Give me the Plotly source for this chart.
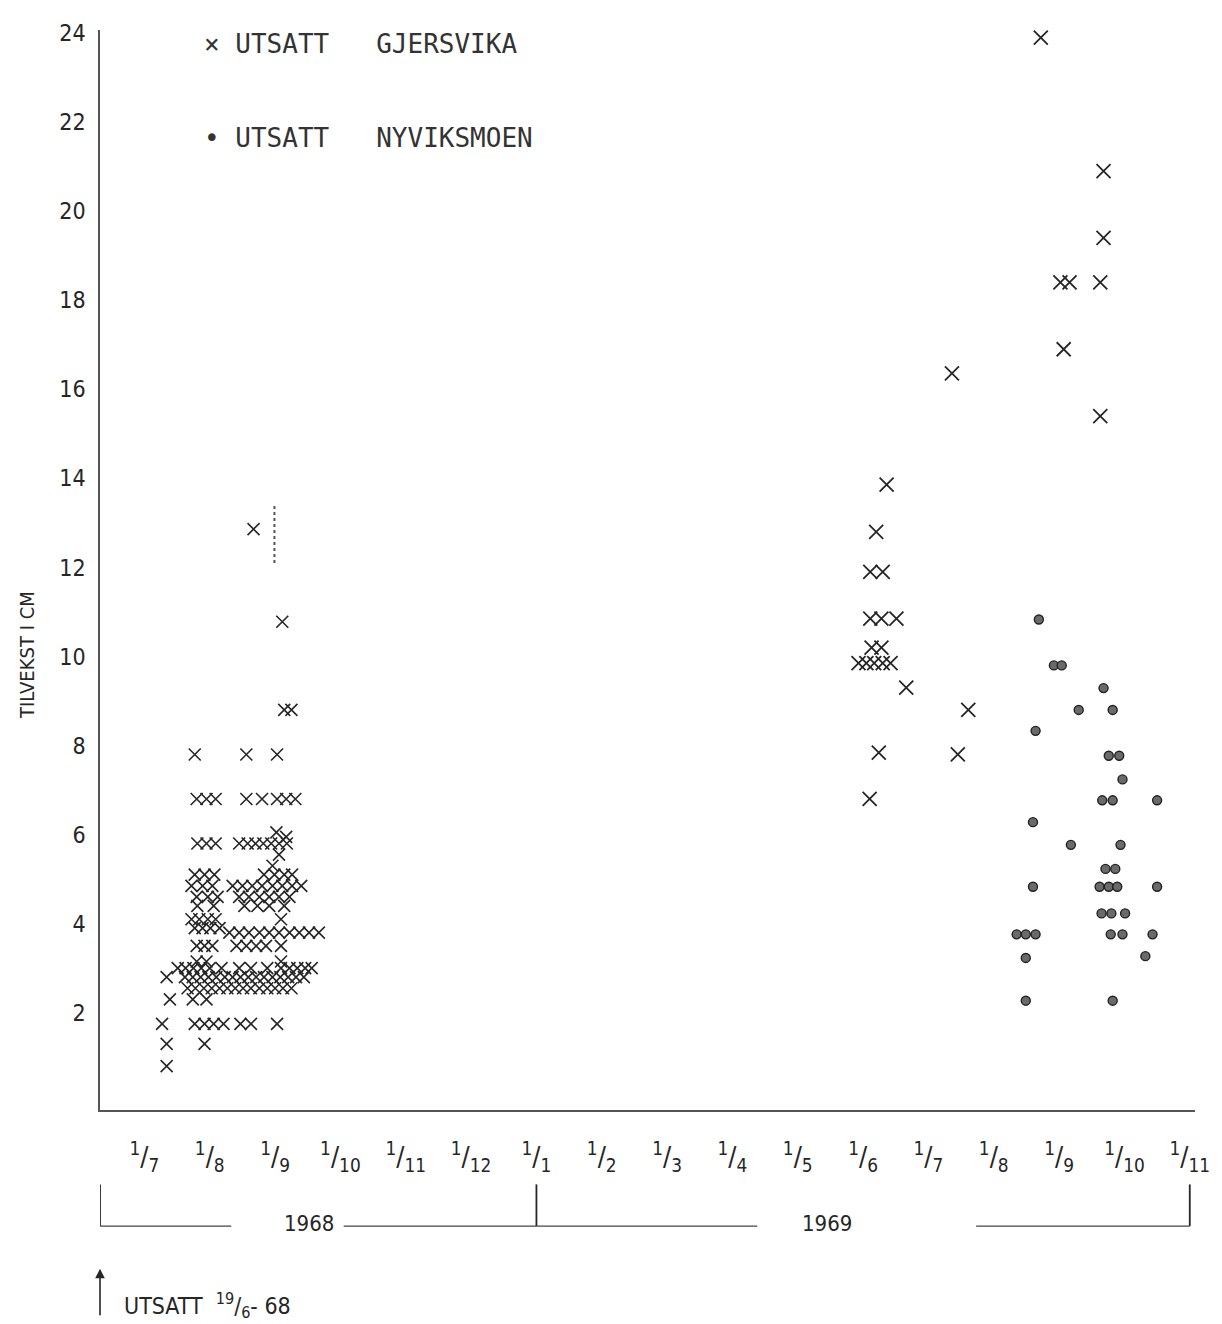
import plotly.graph_objects as go

# Month ticks: 0 = 1 Jul 1968 ... 16 = 1 Nov 1969
month_pos = list(range(17))
month_num = [7, 8, 9, 10, 11, 12, 1, 2, 3, 4, 5, 6, 7, 8, 9, 10, 11]
y_ticks = [2, 4, 6, 8, 10, 12, 14, 16, 18, 20, 22, 24]

# Utsatt Gjersvika, 1968 (months since 1/7-68, growth cm)
gj68_x = [1.67, 2.11, 2.14, 2.25,
          0.77, 1.56, 2.03,
          0.80, 0.95, 1.09, 1.56, 1.80, 2.03, 2.17, 2.31,
          2.02, 2.17,
          0.81, 0.95, 1.09, 1.45, 1.58, 1.70, 1.82, 1.94, 2.06, 2.18,
          2.06, 1.96,
          0.77, 0.92, 1.07, 1.83, 1.99, 2.14, 2.26,
          0.72, 0.89, 1.04, 1.35, 1.50, 1.65, 1.80, 1.96, 2.11, 2.26, 2.40,
          0.80, 0.97, 1.12, 1.45, 1.60, 1.76, 1.91, 2.06, 2.22,
          0.81, 1.06, 1.53, 1.73, 1.91, 2.14,
          0.72, 0.84, 0.97, 1.09, 2.09,
          0.77, 0.89, 1.01, 1.15,
          1.30, 1.45, 1.60, 1.76, 1.91, 2.06, 2.22, 2.37, 2.52, 2.67,
          0.80, 0.92, 1.04, 1.41, 1.56, 1.71, 1.86, 2.09,
          0.80, 0.95, 2.09,
          0.51, 0.63, 0.75, 0.87, 1.00, 1.18, 1.45, 1.63, 1.88, 2.09, 2.22, 2.34, 2.46, 2.56,
          0.34, 0.62, 0.74, 0.86, 0.98, 1.10, 1.23, 1.35, 1.47, 1.59, 1.71, 1.83, 1.96, 2.08, 2.20, 2.32, 2.44,
          0.66, 0.78, 0.91, 1.03, 1.15, 1.27, 1.39, 1.51, 1.63, 1.76, 1.88, 2.00, 2.12, 2.25,
          0.39, 0.74, 0.95,
          0.27, 0.77, 0.92, 1.06, 1.21, 1.47, 1.63, 2.03,
          0.34, 0.92,
          0.34]
gj68_y = [12.86, 10.78, 8.8, 8.8,
          7.8, 7.8, 7.8,
          6.8, 6.8, 6.8, 6.8, 6.8, 6.8, 6.8, 6.8,
          6.05, 5.95,
          5.8, 5.8, 5.8, 5.8, 5.8, 5.8, 5.8, 5.8, 5.8, 5.8,
          5.55, 5.3,
          5.1, 5.1, 5.1, 5.1, 5.1, 5.1, 5.1,
          4.85, 4.85, 4.85, 4.85, 4.85, 4.85, 4.85, 4.85, 4.85, 4.85, 4.85,
          4.6, 4.6, 4.6, 4.6, 4.6, 4.6, 4.6, 4.6, 4.6,
          4.4, 4.4, 4.4, 4.4, 4.4, 4.4,
          4.1, 4.1, 4.1, 4.1, 4.1,
          3.9, 3.9, 3.9, 3.9,
          3.8, 3.8, 3.8, 3.8, 3.8, 3.8, 3.8, 3.8, 3.8, 3.8,
          3.5, 3.5, 3.5, 3.5, 3.5, 3.5, 3.5, 3.5,
          3.15, 3.15, 3.15,
          3.0, 3.0, 3.0, 3.0, 3.0, 3.0, 3.0, 3.0, 3.0, 3.0, 3.0, 3.0, 3.0, 3.0,
          2.8, 2.8, 2.8, 2.8, 2.8, 2.8, 2.8, 2.8, 2.8, 2.8, 2.8, 2.8, 2.8, 2.8, 2.8, 2.8, 2.8,
          2.55, 2.55, 2.55, 2.55, 2.55, 2.55, 2.55, 2.55, 2.55, 2.55, 2.55, 2.55, 2.55, 2.55,
          2.3, 2.3, 2.3,
          1.75, 1.75, 1.75, 1.75, 1.75, 1.75, 1.75, 1.75,
          1.3, 1.3,
          0.8]

# Utsatt Gjersvika, 1969
gj69_x = [11.36, 11.20, 11.11, 11.30, 11.11, 11.28, 11.51, 11.13, 11.28,
          10.93, 11.05, 11.17, 11.30, 11.42, 11.66, 12.61, 11.24, 12.45, 11.10,
          12.36, 13.72, 14.68, 14.68, 14.02, 14.16, 14.63, 14.07, 14.63]
gj69_y = [13.86, 12.8, 11.9, 11.9, 10.85, 10.85, 10.85, 10.2, 10.2,
          9.85, 9.85, 9.85, 9.85, 9.85, 9.3, 8.8, 7.84, 7.8, 6.8,
          16.36, 23.9, 20.9, 19.4, 18.4, 18.4, 18.4, 16.9, 15.4]

# Utsatt Nyviksmoen, 1969
ny69_x = [13.69, 13.92, 14.04, 14.68, 14.30, 14.82, 13.64, 14.76, 14.92, 14.97,
          14.66, 14.82, 15.50, 13.60, 14.18, 14.94, 14.71, 14.86,
          13.60, 14.62, 14.76, 14.89, 15.50, 14.65, 14.80, 15.01,
          13.35, 13.49, 13.64, 14.79, 14.97, 15.43, 13.49, 15.32, 13.49, 14.82]
ny69_y = [10.83, 9.8, 9.8, 9.29, 8.8, 8.8, 8.33, 7.77, 7.77, 7.24,
          6.77, 6.77, 6.77, 6.28, 5.77, 5.77, 5.23, 5.23,
          4.83, 4.83, 4.83, 4.83, 4.83, 4.23, 4.23, 4.23,
          3.76, 3.76, 3.76, 3.76, 3.76, 3.76, 3.23, 3.27, 2.27, 2.27]

# Year bracket (in month units)
release_m = -0.68      # 19/6-68
year_split_m = 6.0     # 1/1-69
end_m = 16.0           # 1/11-69

INK = "#262626"
FONT = "DejaVu Sans Condensed"

fig = go.Figure()
fig.add_trace(go.Scatter(x=gj68_x, y=gj68_y, mode="markers",
                         marker=dict(symbol="x-thin", size=12, color=INK,
                                     line=dict(color=INK, width=1.6)),
                         cliponaxis=False, showlegend=False))
fig.add_trace(go.Scatter(x=gj69_x, y=gj69_y, mode="markers",
                         marker=dict(symbol="x-thin", size=14, color=INK,
                                     line=dict(color=INK, width=1.8)),
                         cliponaxis=False, showlegend=False))
fig.add_trace(go.Scatter(x=ny69_x, y=ny69_y, mode="markers",
                         marker=dict(symbol="circle", size=9, color="#6a6a6a",
                                     line=dict(color="#222", width=1.4)),
                         cliponaxis=False, showlegend=False))

tick_text = ["<sup>1</sup>/<sub>%d</sub>" % n for n in month_num]

fig.update_xaxes(range=[-0.68, 16.08], tickmode="array", tickvals=month_pos,
                 ticktext=tick_text, showgrid=False, zeroline=False,
                 showline=True, linecolor="#555", linewidth=1.5,
                 ticks="", ticklabelstandoff=22,
                 tickfont=dict(family=FONT, size=27, color=INK))
fig.update_yaxes(range=[-0.185, 24.07], tickmode="array", tickvals=y_ticks,
                 ticktext=[str(v) for v in y_ticks], showgrid=False, zeroline=False,
                 showline=True, linecolor="#555", linewidth=1.5,
                 ticks="", ticklabelstandoff=8,
                 tickfont=dict(family=FONT, size=23, color=INK))

# Legend written as text
fig.add_annotation(xref="paper", yref="paper", x=0.093, y=0.987, xanchor="left",
                   yanchor="middle", showarrow=False,
                   text="× UTSATT   GJERSVIKA",
                   font=dict(family="DejaVu Sans Mono", size=26, color="#333"))
fig.add_annotation(xref="paper", yref="paper", x=0.093, y=0.900, xanchor="left",
                   yanchor="middle", showarrow=False,
                   text="• UTSATT   NYVIKSMOEN",
                   font=dict(family="DejaVu Sans Mono", size=26, color="#333"))

# Y title
fig.add_annotation(xref="paper", yref="paper", x=-0.066, y=0.421, textangle=-90,
                   xanchor="center", yanchor="middle",
                   showarrow=False, text="TILVEKST I CM",
                   font=dict(family=FONT, size=20, color=INK))

# Year brackets
yb_top, yb_bot = -0.0689, -0.1075
for xm in [release_m, year_split_m, end_m]:
    fig.add_shape(type="line", xref="x", yref="paper", x0=xm, x1=xm, y0=yb_top, y1=yb_bot,
                  line=dict(color=INK, width=1.8))
for a, b in [(release_m, 1.33), (3.05, year_split_m), (year_split_m, 9.38), (12.73, end_m)]:
    fig.add_shape(type="line", xref="x", yref="paper", x0=a, x1=b, y0=yb_bot, y1=yb_bot,
                  line=dict(color="#444", width=1.3))
fig.add_annotation(xref="x", yref="paper", x=2.52, y=yb_bot + 0.002, yanchor="middle",
                   showarrow=False, text="1968",
                   font=dict(family=FONT, size=22, color=INK))
fig.add_annotation(xref="x", yref="paper", x=10.44, y=yb_bot + 0.002, yanchor="middle",
                   showarrow=False, text="1969",
                   font=dict(family=FONT, size=22, color=INK))

# Release note with arrow
fig.add_annotation(xref="x", yref="paper", x=release_m, y=-0.147, ax=0, ay=48,
                   showarrow=True, arrowhead=2, arrowsize=1.2, arrowwidth=1.6,
                   arrowcolor=INK, text="")
fig.add_annotation(xref="paper", yref="paper", x=0.02, y=-0.181, xanchor="left",
                   yanchor="middle",
                   showarrow=False, text="UTSATT  <sup>19</sup>/<sub>6</sub>- 68",
                   font=dict(family=FONT, size=23, color=INK))

# faint vertical dotted mark near 1/9-68
fig.add_shape(type="line", xref="x", yref="y", x0=1.99, x1=1.99, y0=12.1, y1=13.4,
              line=dict(color="#555", width=2, dash="dot"))

# Page body has an 8px margin, so the figure is sized to fit the window
fig.update_layout(width=1214, height=1316, margin=dict(l=92, r=22, t=14, b=214),
                  plot_bgcolor="white", paper_bgcolor="white", showlegend=False)

fig.write_html("out.html")
